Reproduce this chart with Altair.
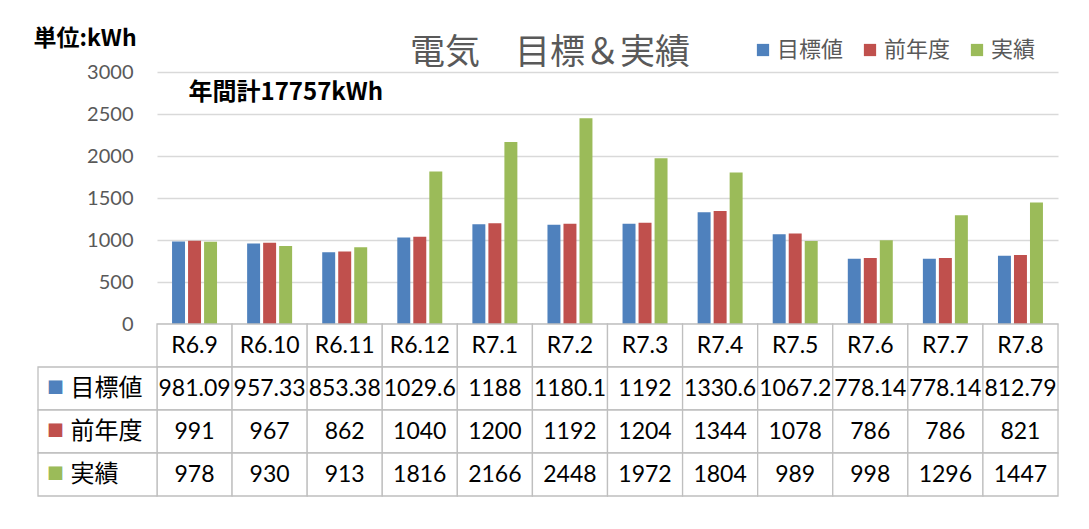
import altair as alt
import pandas as pd

# ---- data ----
categories = ["R6.9", "R6.10", "R6.11", "R6.12", "R7.1", "R7.2",
              "R7.3", "R7.4", "R7.5", "R7.6", "R7.7", "R7.8"]
target = [981.09, 957.33, 853.38, 1029.6, 1188, 1180.1,
          1192, 1330.6, 1067.2, 778.14, 778.14, 812.79]
prev_year = [991, 967, 862, 1040, 1200, 1192, 1204, 1344, 1078, 786, 786, 821]
actual = [978, 930, 913, 1816, 2166, 2448, 1972, 1804, 989, 998, 1296, 1447]
series_names = ["目標値", "前年度", "実績"]
series_colors = ["#4f81bd", "#c0504d", "#9bbb59"]
y_ticks = [0, 500, 1000, 1500, 2000, 2500, 3000]
title_text = "電気　目標＆実績"
unit_label = "単位:kWh"
annual_label = "年間計17757kWh"

# ---- layout constants ----
PLOT_W = 901
BAR_H = 252
TOTAL_H = 424
LABEL_W = 119
CJK = "Noto Sans CJK JP"
NUM = "Lato, Noto Sans CJK JP"
GRID = "#d9d9d9"
BORDER = "#bfbfbf"
GRAY = "#595959"

rows = []
for s, vals in zip(series_names, [target, prev_year, actual]):
    for c, v in zip(categories, vals):
        rows.append({"cat": c, "series": s, "value": v, "label": f"{v:g}"})
bars_df = pd.DataFrame(rows)

header_key = "hdr"
header_df = pd.DataFrame({"cat": categories, "row": header_key, "label": categories})
value_df = bars_df.rename(columns={"series": "row"})[["cat", "row", "label"]]
table_df = pd.concat([header_df, value_df], ignore_index=True)
label_df = pd.DataFrame({"col": "label", "row": series_names, "series": series_names})
annot_df = pd.DataFrame({"cat": [categories[0]], "v": [2750], "t": [annual_label]})

x_cat = alt.Scale(domain=categories, range=[0, PLOT_W], paddingInner=0, paddingOuter=0)
x_lab = alt.Scale(domain=["label"], range=[-LABEL_W, 0], paddingInner=0, paddingOuter=0)
y_bar = alt.Scale(domain=[0, 3000], range=[BAR_H, 0], nice=False)
y_tab = alt.Scale(domain=[header_key] + series_names, range=[BAR_H, TOTAL_H],
                  paddingInner=0, paddingOuter=0)
color_scale = alt.Scale(domain=series_names, range=series_colors)

legend = alt.Legend(title=None, orient="none", legendX=595, legendY=-33,
                    direction="horizontal", symbolType="square", symbolSize=150,
                    symbolStrokeWidth=0, labelFontSize=22, labelFont=CJK,
                    labelColor=GRAY, columnPadding=15, labelOffset=3)

bars = alt.Chart(bars_df).mark_bar().encode(
    x=alt.X("cat:N", scale=x_cat, axis=None, sort=categories),
    xOffset=alt.XOffset("series:N", sort=series_names,
                        scale=alt.Scale(domain=series_names, paddingInner=0.19,
                                        paddingOuter=0.94)),
    y=alt.Y("value:Q", scale=y_bar,
            axis=alt.Axis(values=y_ticks, format="d", labelFontSize=20,
                          labelColor=GRAY, labelFont=NUM, labelPadding=24,
                          ticks=False, domain=False,
                          grid=True, gridColor=GRID, gridWidth=1.3,
                          title=unit_label, titleAngle=0, titleAlign="left",
                          titleBaseline="middle", titleX=-124, titleY=-34,
                          titleFontSize=23, titleFont=CJK, titleFontWeight="bold",
                          titleColor="black")),
    color=alt.Color("series:N", scale=color_scale, legend=legend, sort=series_names),
)

annot = alt.Chart(annot_df).mark_text(
    align="left", baseline="middle", dx=-6, font=CJK, fontSize=24,
    fontWeight="bold", color="black"
).encode(
    x=alt.X("cat:N", scale=x_cat, axis=None),
    y=alt.Y("v:Q", scale=y_bar, axis=None),
    text="t:N",
)

cells = alt.Chart(table_df).mark_rect(fill="white", stroke=BORDER, strokeWidth=1.3).encode(
    x=alt.X("cat:N", scale=x_cat, axis=None),
    y=alt.Y("row:N", scale=y_tab, axis=None),
)
cell_text = alt.Chart(table_df).mark_text(font=NUM, fontSize=23, color="black").encode(
    x=alt.X("cat:N", scale=x_cat, axis=None),
    y=alt.Y("row:N", scale=y_tab, axis=None),
    text="label:N",
)

lab_cells = alt.Chart(label_df).mark_rect(fill="white", stroke=BORDER, strokeWidth=1.3).encode(
    x=alt.X("col:N", scale=x_lab, axis=None),
    y=alt.Y("row:N", scale=y_tab, axis=None),
)
lab_text = alt.Chart(label_df).mark_text(align="left", dx=-27, font=CJK, fontSize=24,
                                          color="black").encode(
    x=alt.X("col:N", scale=x_lab, axis=None),
    y=alt.Y("row:N", scale=y_tab, axis=None),
    text="row:N",
)
lab_sq = alt.Chart(label_df).mark_text(text="■", dx=-42, font=CJK, fontSize=17).encode(
    x=alt.X("col:N", scale=x_lab, axis=None),
    y=alt.Y("row:N", scale=y_tab, axis=None),
    color=alt.Color("series:N", scale=color_scale, legend=legend),
)

chart = alt.layer(bars, annot, cells, cell_text, lab_cells, lab_text, lab_sq).resolve_scale(
    x="independent", y="independent"
).properties(
    width=PLOT_W, height=TOTAL_H,
    title=alt.TitleParams(text=title_text, anchor="start", dx=377, dy=48, fontSize=35,
                          font=CJK, color=GRAY, fontWeight="normal"),
    autosize=alt.AutoSizeParams(type="none"),
    padding={"left": 149, "top": 64, "right": 20, "bottom": 25},
    background="white",
).configure_view(stroke=None)

chart.save("out.html", embed_options={"renderer": "svg", "actions": False})
